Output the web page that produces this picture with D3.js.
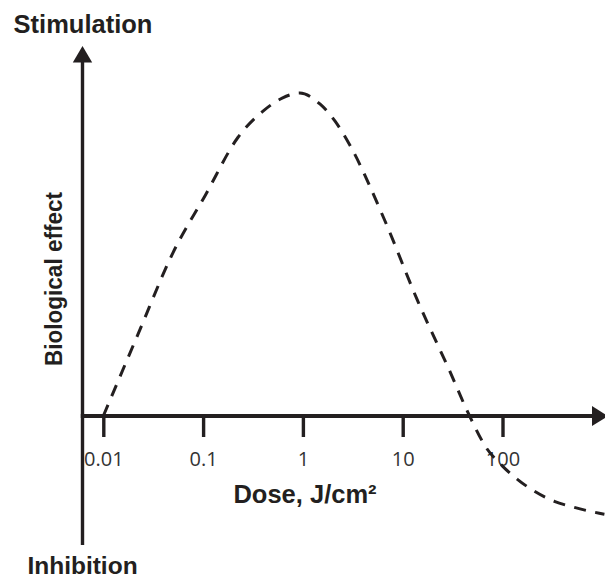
<!DOCTYPE html>
<html>
<head>
<meta charset="utf-8">
<script src="https://cdn.jsdelivr.net/npm/d3@7"></script>
<style>
  html, body { margin: 0; padding: 0; background: #fff; }
  svg { display: block; }
</style>
</head>
<body>
<svg id="chart" width="605" height="580"></svg>
<script>
// ---- data ----
const tickValues = [0.01, 0.1, 1, 10, 100];
const tickLabels = ["0.01", "0.1", "1", "10", "100"];
const doses   = [0.01, 0.0224, 0.05, 0.105, 0.224, 0.41, 0.62, 0.93, 1.48, 2.1, 2.95, 6.6, 14.1, 29.5, 46.8, 69, 100, 141, 209, 331, 525, 933, 1050];
const effects = [0, 25.5, 50.6, 68.3, 86.3, 94.7, 98.4, 100, 96.6, 91.3, 83.9, 60.6, 35.7, 14.0, 0, -9.9, -15.5, -19.6, -23.3, -26.4, -28.3, -30.1, -30.4];
const xTitle = "Dose, J/cm²";
const yTitle = "Biological effect";
const topLabel = "Stimulation";
const bottomLabel = "Inhibition";

const ink = "#231f20";
const svg = d3.select("#chart");

const x = d3.scaleLog().domain([0.01, 100]).range([103.3, 502.5]);
const y = d3.scaleLinear().domain([0, 100]).range([416, 93]);

const axisX = 82.5;      // y-axis position
const axisY = y(0);

// y axis line + arrow
svg.append("line")
  .attr("x1", axisX).attr("x2", axisX)
  .attr("y1", 545).attr("y2", 60)
  .attr("stroke", ink).attr("stroke-width", 3.4);
svg.append("path")
  .attr("d", `M${axisX},46 L${axisX-9.7},62.5 L${axisX+9.7},62.5 Z`)
  .attr("fill", ink);

// x axis line + arrow
svg.append("line")
  .attr("x1", axisX - 1.7).attr("x2", 594)
  .attr("y1", axisY).attr("y2", axisY)
  .attr("stroke", ink).attr("stroke-width", 4);
svg.append("path")
  .attr("d", `M608,${axisY} L592,${axisY-10} L592,${axisY+10} Z`)
  .attr("fill", ink);

// ticks via d3 axis
const xAxis = d3.axisBottom(x)
  .tickValues(tickValues)
  .tickFormat((d, i) => tickLabels[i])
  .tickSize(21)
  .tickPadding(15);
const gx = svg.append("g")
  .attr("transform", `translate(0,${axisY})`)
  .call(xAxis);
gx.select(".domain").remove();
gx.selectAll(".tick line").attr("stroke", ink).attr("stroke-width", 3.4);
gx.selectAll(".tick text")
  .attr("fill", "#333")
  .attr("font-family", "'Open Sans', 'Liberation Sans', sans-serif")
  .attr("font-size", 20);

// curve
const line = d3.line()
  .x((d, i) => x(doses[i]))
  .y((d, i) => y(effects[i]))
  .curve(d3.curveMonotoneX);
svg.append("path")
  .datum(doses)
  .attr("d", line)
  .attr("fill", "none")
  .attr("stroke", ink)
  .attr("stroke-width", 3)
  .attr("stroke-dasharray", "12,9.5");

// texts
const boldFont = "'Liberation Sans', Arial, sans-serif";
svg.append("text")
  .attr("x", 83).attr("y", 33)
  .attr("text-anchor", "middle")
  .attr("font-family", boldFont).attr("font-weight", "bold")
  .attr("font-size", 25.5).attr("fill", ink)
  .text(topLabel);
svg.append("text")
  .attr("x", 82.5).attr("y", 574)
  .attr("text-anchor", "middle")
  .attr("font-family", boldFont).attr("font-weight", "bold")
  .attr("font-size", 24.5).attr("fill", ink)
  .text(bottomLabel);
svg.append("text")
  .attr("x", 305).attr("y", 503)
  .attr("text-anchor", "middle")
  .attr("font-family", boldFont).attr("font-weight", "bold")
  .attr("font-size", 25.5).attr("fill", ink)
  .text(xTitle);
svg.append("text")
  .attr("transform", "translate(62,279) rotate(-90)")
  .attr("text-anchor", "middle")
  .attr("font-family", boldFont).attr("font-weight", "bold")
  .attr("font-size", 24).attr("fill", ink)
  .attr("textLength", 174).attr("lengthAdjust", "spacingAndGlyphs")
  .text(yTitle);
</script>
</body>
</html>
